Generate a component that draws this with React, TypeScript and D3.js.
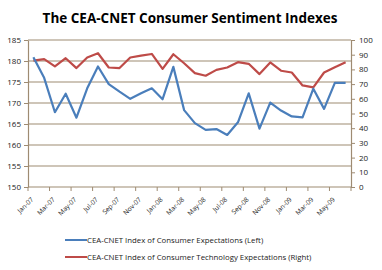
import React, { useEffect, useRef } from 'react';
import * as d3 from 'd3';

const months = [
  'Jan-07', 'Feb-07', 'Mar-07', 'Apr-07', 'May-07', 'Jun-07', 'Jul-07', 'Aug-07', 'Sep-07', 'Oct-07',
  'Nov-07', 'Dec-07', 'Jan-08', 'Feb-08', 'Mar-08', 'Apr-08', 'May-08', 'Jun-08', 'Jul-08', 'Aug-08',
  'Sep-08', 'Oct-08', 'Nov-08', 'Dec-08', 'Jan-09', 'Feb-09', 'Mar-09', 'Apr-09', 'May-09', 'Jun-09',
];

// left axis
const expectations = [
  180.9, 176.0, 167.8, 172.2, 166.5, 173.5, 178.7, 174.5, 172.7, 171.0,
  172.3, 173.5, 170.9, 178.6, 168.3, 165.2, 163.6, 163.8, 162.4, 165.4,
  172.3, 163.9, 170.1, 168.2, 166.8, 166.6, 173.4, 168.6, 174.8, 174.8,
];

// right axis
const techExpectations = [
  86.0, 87.0, 82.0, 87.6, 80.9, 88.1, 91.0, 81.3, 80.9, 88.1,
  89.4, 90.5, 80.4, 90.3, 84.2, 77.5, 75.7, 79.7, 81.3, 84.9,
  83.8, 76.8, 84.7, 79.1, 77.9, 69.1, 67.8, 77.9, 81.5, 84.9,
];

const leftTicks = [150, 155, 160, 165, 170, 175, 180, 185];
const rightTicks = [0, 10, 20, 30, 40, 50, 60, 70, 80, 90, 100];

const legendLabels = [
  'CEA-CNET Index of Consumer Expectations (Left)',
  'CEA-CNET Index of Consumer Technology Expectations (Right)',
];

const App: React.FC = () => {
  const ref = useRef<SVGSVGElement>(null);

  useEffect(() => {
    const svg = d3.select(ref.current);
    svg.selectAll('*').remove();

    const left = 28, right = 351, top = 40, bottom = 187;
    const grid = '#9E8B72';
    const font = "'Open Sans', sans-serif";

    const x = d3.scaleBand<string>().domain(months).range([left, right]);
    const yL = d3.scaleLinear().domain([150, 185]).range([bottom, top]);
    const yR = d3.scaleLinear().domain([0, 100]).range([bottom, top]);

    svg.append('text')
      .attr('x', 190).attr('y', 23)
      .attr('text-anchor', 'middle')
      .attr('font-family', font).attr('font-weight', 'bold').attr('font-size', 13.5)
      .text('The CEA-CNET Consumer Sentiment Indexes');

    // gridlines
    svg.append('g').selectAll('line')
      .data(leftTicks.slice(1))
      .enter().append('line')
      .attr('x1', left).attr('x2', right)
      .attr('y1', d => yL(d)).attr('y2', d => yL(d))
      .attr('stroke', grid).attr('stroke-width', 1.2);

    const axisStyle = (g: d3.Selection<SVGGElement, unknown, null, undefined>) => {
      g.selectAll('path').attr('stroke', grid).attr('stroke-width', 1.2);
      g.selectAll('line').attr('stroke', grid);
      g.selectAll('text').attr('font-family', font).attr('font-size', 8).attr('fill', '#222');
    };

    svg.append('g')
      .attr('transform', `translate(${left},0)`)
      .call(d3.axisLeft(yL).tickValues(leftTicks).tickSize(4).tickSizeOuter(0).tickPadding(3))
      .call(axisStyle);

    svg.append('g')
      .attr('transform', `translate(${right},0)`)
      .call(d3.axisRight(yR).tickValues(rightTicks).tickSize(4).tickSizeOuter(0).tickPadding(4))
      .call(axisStyle);

    // x axis: ticks at every 2nd category boundary
    const xg = svg.append('g');
    xg.append('line')
      .attr('x1', left).attr('x2', right).attr('y1', bottom).attr('y2', bottom)
      .attr('stroke', grid).attr('stroke-width', 1.2);
    const bounds = d3.range(0, months.length + 1, 2);
    xg.selectAll('line.tk').data(bounds).enter().append('line')
      .attr('class', 'tk')
      .attr('x1', d => left + d * x.step()).attr('x2', d => left + d * x.step())
      .attr('y1', bottom).attr('y2', bottom + 4)
      .attr('stroke', grid);
    xg.selectAll('text').data(months.filter((_, i) => i % 2 === 0)).enter().append('text')
      .attr('transform', d => `translate(${(x(d) as number) + x.bandwidth() / 2 + 0.5},${bottom + 13}) rotate(-45)`)
      .attr('text-anchor', 'end')
      .attr('font-family', font).attr('font-size', 6.6).attr('fill', '#222')
      .text(d => d);

    const lineL = d3.line<number>()
      .x((_, i) => (x(months[i]) as number) + x.bandwidth() / 2)
      .y(d => yL(d));
    const lineR = d3.line<number>()
      .x((_, i) => (x(months[i]) as number) + x.bandwidth() / 2)
      .y(d => yR(d));

    svg.append('path').datum(techExpectations)
      .attr('d', lineR).attr('fill', 'none')
      .attr('stroke', '#BE4B48').attr('stroke-width', 2.2).attr('stroke-linejoin', 'round');
    svg.append('path').datum(expectations)
      .attr('d', lineL).attr('fill', 'none')
      .attr('stroke', '#4A7EBB').attr('stroke-width', 2.2).attr('stroke-linejoin', 'round');

    // legend
    const colors = ['#4A7EBB', '#BE4B48'];
    const lg = svg.append('g').selectAll('g').data(legendLabels).enter().append('g')
      .attr('transform', (_, i) => `translate(65,${240 + i * 17})`);
    lg.append('line').attr('x1', 0).attr('x2', 22).attr('y1', 0).attr('y2', 0)
      .attr('stroke', (_, i) => colors[i]).attr('stroke-width', 2);
    lg.append('text').attr('x', 22).attr('y', 2.8)
      .attr('font-family', font).attr('font-size', 7.8).attr('fill', '#222')
      .text(d => d);
  }, []);

  return <svg ref={ref} width={382} height={270} style={{ position: 'absolute', left: 0, top: 0 }} />;
};

export default App;
